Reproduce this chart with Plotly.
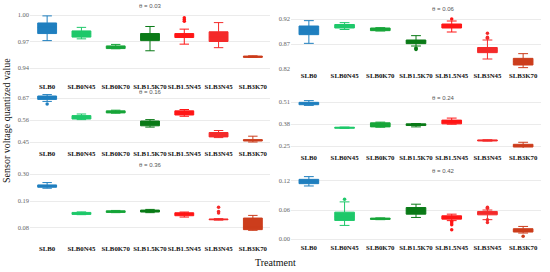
import plotly.graph_objects as go
from plotly.subplots import make_subplots

categories = ["SLB0", "SLB0N45", "SLB0K70", "SLB1.5K70", "SLB1.5N45", "SLB3N45", "SLB3K70"]
colors = ["#1f7fbf", "#1ec86a", "#17a539", "#0a7a17", "#ff1616", "#f42a2a", "#cc3d1c"]

titles = ["θ = 0.03", "θ = 0.06", "θ = 0.16", "θ = 0.24", "θ = 0.36", "θ = 0.42"]

# θ = 0.03
p1_low = [0.971, 0.973, 0.9618, 0.9595, 0.967, 0.963, 0.9522]
p1_q1 = [0.979, 0.975, 0.962, 0.971, 0.9745, 0.970, 0.952]
p1_med = [0.986, 0.979, 0.9635, 0.975, 0.977, 0.975, 0.953]
p1_q3 = [0.991, 0.982, 0.965, 0.979, 0.979, 0.981, 0.9535]
p1_high = [0.999, 0.986, 0.9667, 0.987, 0.984, 0.9914, 0.9538]
p1_out = [[], [], [], [], [0.997, 0.995, 0.993], [], []]
p1_ticks = [0.94, 0.97, 1.00]

# θ = 0.06
p2_low = [0.8713, 0.899, 0.896, 0.866, 0.894, 0.840, 0.8227]
p2_q1 = [0.8887, 0.902, 0.8967, 0.8707, 0.902, 0.8527, 0.828]
p2_med = [0.898, 0.906, 0.899, 0.875, 0.906, 0.857, 0.835]
p2_q3 = [0.906, 0.909, 0.902, 0.878, 0.910, 0.863, 0.8413]
p2_high = [0.9167, 0.9127, 0.9027, 0.8867, 0.916, 0.878, 0.8507]
p2_out = [[], [], [], [0.862, 0.861, 0.859], [0.92], [0.8913, 0.8833, 0.8813], []]
p2_ticks = [0.82, 0.87, 0.92]

# θ = 0.16
p3_low = [0.653, 0.562, 0.594, 0.5245, 0.5786, 0.472, 0.45]
p3_q1 = [0.663, 0.565, 0.5955, 0.531, 0.585, 0.4754, 0.455]
p3_med = [0.672, 0.575, 0.601, 0.543, 0.596, 0.486, 0.458]
p3_q3 = [0.680, 0.582, 0.6057, 0.555, 0.6057, 0.4974, 0.462]
p3_high = [0.687, 0.590, 0.609, 0.562, 0.6125, 0.5075, 0.479]
p3_out = [[0.64], [], [], [], [], [], []]
p3_ticks = [0.45, 0.56, 0.67]

# θ = 0.24
p4_low = [0.490, 0.354, 0.361, 0.363, 0.379, 0.279, 0.234]
p4_q1 = [0.494, 0.355, 0.363, 0.371, 0.381, 0.2798, 0.244]
p4_med = [0.501, 0.358, 0.375, 0.376, 0.391, 0.283, 0.252]
p4_q3 = [0.508, 0.361, 0.387, 0.381, 0.403, 0.2857, 0.260]
p4_high = [0.518, 0.362, 0.391, 0.383, 0.415, 0.287, 0.272]
p4_out = [[], [], [], [], [], [], []]
p4_ticks = [0.25, 0.38, 0.51]

# θ = 0.36
p5_low = [0.242, 0.1343, 0.1425, 0.1425, 0.1245, 0.112, 0.0705]
p5_q1 = [0.246, 0.1353, 0.1434, 0.145, 0.130, 0.1135, 0.0733]
p5_med = [0.251, 0.139, 0.147, 0.149, 0.136, 0.115, 0.085]
p5_q3 = [0.2555, 0.1434, 0.150, 0.153, 0.142, 0.1165, 0.1205]
p5_high = [0.265, 0.1455, 0.1515, 0.1557, 0.145, 0.118, 0.1313]
p5_out = [[], [], [], [], [], [0.165, 0.1475, 0.141], []]
p5_ticks = [0.08, 0.19, 0.30]

# θ = 0.42
p6_low = [0.1097, 0.0281, 0.0400, 0.0446, 0.038, 0.040, 0.0123]
p6_q1 = [0.1145, 0.0384, 0.0405, 0.0514, 0.0411, 0.050, 0.0144]
p6_med = [0.119, 0.046, 0.042, 0.058, 0.044, 0.053, 0.018]
p6_q3 = [0.1234, 0.0555, 0.0432, 0.0651, 0.048, 0.057, 0.0213]
p6_high = [0.129, 0.0768, 0.0437, 0.072, 0.0514, 0.060, 0.026]
p6_out = [[], [0.0823], [], [], [0.0363, 0.033, 0.0295, 0.0192], [0.0658, 0.0638, 0.0398, 0.0343], [0.0055]]
p6_ticks = [0.00, 0.06, 0.12]

panels = [
    (p1_low, p1_q1, p1_med, p1_q3, p1_high, p1_out, p1_ticks),
    (p2_low, p2_q1, p2_med, p2_q3, p2_high, p2_out, p2_ticks),
    (p3_low, p3_q1, p3_med, p3_q3, p3_high, p3_out, p3_ticks),
    (p4_low, p4_q1, p4_med, p4_q3, p4_high, p4_out, p4_ticks),
    (p5_low, p5_q1, p5_med, p5_q3, p5_high, p5_out, p5_ticks),
    (p6_low, p6_q1, p6_med, p6_q3, p6_high, p6_out, p6_ticks),
]

W, H = 550, 272
x_left = (30, 270)
x_right = (291, 541)
geo = [
    (x_left, (6, 71), (0.9366, 1.0102), 10, (150, 6)),
    (x_right, (10, 70), (0.818, 0.938), 0, (443, 9)),
    (x_left, (90, 146), (0.43, 0.71), 2, (150, 92)),
    (x_right, (95, 148), (0.2382, 0.5514), 4, (443, 98)),
    (x_left, (170, 233), (0.0596, 0.3163), 10, (150, 165)),
    (x_right, (175, 242), (-0.0062, 0.1324), 0, (443, 171)),
]

fig = make_subplots(rows=3, cols=2)

for i, (low, q1, med, q3, high, out, ticks) in enumerate(panels):
    r, c = i // 2 + 1, i % 2 + 1
    for j, cat in enumerate(categories):
        fig.add_trace(go.Box(
            x=[cat], q1=[q1[j]], median=[med[j]], q3=[q3[j]],
            lowerfence=[low[j]], upperfence=[high[j]],
            fillcolor=colors[j], line=dict(color=colors[j], width=1),
            whiskerwidth=0.5, width=0.55, boxpoints=False, showlegend=False,
            hoverinfo="skip"), row=r, col=c)
        if out[j]:
            fig.add_trace(go.Scatter(
                x=[cat] * len(out[j]), y=out[j], mode="markers",
                marker=dict(color=colors[j], size=3.5), showlegend=False,
                hoverinfo="skip"), row=r, col=c)

annotations = []
for i, ((xl, xr), (yt, yb), yr, stand, (tx, ty)) in enumerate(geo):
    n = "" if i == 0 else str(i + 1)
    ticks = panels[i][6]
    fig.layout["xaxis" + n].update(
        domain=[xl / W, xr / W], type="category", categoryorder="array",
        categoryarray=categories, range=[-0.5, 6.5], showgrid=False,
        showline=False, zeroline=False, automargin=False, tickangle=0,
        tickfont=dict(family="Liberation Serif", size=6.8, color="#111111",
                      weight="bold"),
        ticklabelstandoff=stand)
    fig.layout["yaxis" + n].update(
        domain=[1 - yb / H, 1 - yt / H], range=list(yr), tickvals=ticks,
        ticktext=["%.2f" % t for t in ticks], showgrid=True, gridcolor="#ebebeb",
        gridwidth=1, zeroline=False, showline=False, automargin=False,
        tickfont=dict(family="Liberation Serif", size=6.5, color="#666666"))
    annotations.append(dict(
        x=tx / W, y=1 - ty / H, xref="paper", yref="paper", text=titles[i],
        showarrow=False, font=dict(family="Liberation Sans", size=6, color="#555555"),
        xanchor="center", yanchor="middle"))

annotations.append(dict(
    x=6 / W, y=1 - 121 / H, xref="paper", yref="paper",
    text="Sensor voltage quantized value", textangle=-90, showarrow=False,
    font=dict(family="Liberation Serif", size=10, color="#111111"),
    xanchor="center", yanchor="middle"))
annotations.append(dict(
    x=275 / W, y=1 - 262 / H, xref="paper", yref="paper",
    text="Treatment", showarrow=False,
    font=dict(family="Liberation Serif", size=10, color="#111111"),
    xanchor="center", yanchor="middle"))

fig.update_layout(
    width=W, height=H, margin=dict(l=0, r=0, t=0, b=0),
    paper_bgcolor="white", plot_bgcolor="white",
    annotations=annotations, boxmode="overlay")

fig.write_html("out.html", config={"displayModeBar": False},
               post_script="document.body.style.margin='0px';")
